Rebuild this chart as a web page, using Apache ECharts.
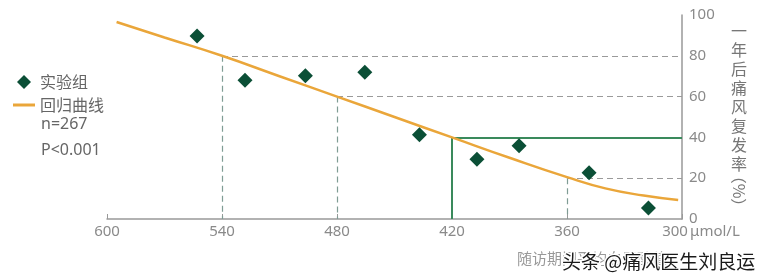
<!DOCTYPE html>
<html><head><meta charset="utf-8">
<script src="https://cdn.jsdelivr.net/npm/echarts@6/dist/echarts.min.js"></script>
<style>html,body{margin:0;padding:0;background:#fff}#c{width:769px;height:278px}</style>
</head><body><div id="c"></div>
<script>
// ---- data ----
var xTicks = [600, 540, 480, 420, 360, 300];
var yTicks = [0, 20, 40, 60, 80, 100];
var groupX = [553, 528, 496.5, 465.5, 437, 407, 385, 348.5, 317.5];
var groupY = [89.7, 68, 70.2, 71.9, 41.3, 29.3, 35.9, 22.7, 5.4];
var curveX = [595, 570, 540, 510, 480, 450, 420, 390, 360, 340, 320, 302];
var curveY = [96.6, 89, 80, 70, 60, 50, 40, 30, 20.5, 15, 11.5, 9.3];
var guideX = [540, 480, 360];
var guideY = [80, 60, 20];
var solidX = [420];
var solidY = [40];
var legendNames = ['实验组', '回归曲线'];
var statTexts = ['n=267', 'P<0.001'];
var yName = ['一', '年', '后', '痛', '风', '复', '发', '率'];
var yNameUnit = '（%）';
var xUnit = 'μmol/L';
var xTitle = '随访期间平均血尿酸值';
var watermark = '头条 @痛风医生刘良运';

var chart = echarts.init(document.getElementById('c'));
var xMin = Math.min.apply(null, xTicks), xMax = Math.max.apply(null, xTicks);
var yMin = Math.min.apply(null, yTicks), yMax = Math.max.apply(null, yTicks);

var marks = [];
guideX.forEach(function (x, i) {
  marks.push([{coord: [x, guideY[i]], lineStyle: {color: '#7f9c94', type: [6, 4], width: 1.2}}, {coord: [x, yMin]}]);
  marks.push([{coord: [x, guideY[i]], lineStyle: {color: '#9a9a9a', type: [6, 4], width: 1.2}}, {coord: [xMin, guideY[i]]}]);
});
solidX.forEach(function (x, i) {
  marks.push([{coord: [x, solidY[i]], lineStyle: {color: '#3a8a5c', type: 'solid', width: 2}}, {coord: [x, yMin]}]);
  marks.push([{coord: [x, solidY[i]], lineStyle: {color: '#3a8a5c', type: 'solid', width: 2}}, {coord: [xMin, solidY[i]]}]);
});

var font = '"Noto Sans CJK SC", "Noto Sans", sans-serif';
var option = {
  animation: false,
  backgroundColor: '#fff',
  grid: {left: 107, right: 87, top: 15, bottom: 59},
  legend: {
    orient: 'vertical', left: 13, top: 74, padding: 0, itemWidth: 22, itemHeight: 14, itemGap: 7,
    symbolKeepAspect: true,
    textStyle: {fontSize: 16, lineHeight: 16, color: '#666', fontFamily: font},
    data: [
      {name: legendNames[0], icon: 'path://M7,0L14,7L7,14L0,7Z'},
      {name: legendNames[1], icon: 'path://M0,0h22v3h-22z'}
    ]
  },
  xAxis: {
    type: 'value', inverse: true, min: xMin, max: xMax, interval: 60,
    axisLine: {lineStyle: {color: '#999', width: 1.5}},
    axisTick: {show: true, inside: true, length: 5, lineStyle: {color: '#999'}},
    splitLine: {show: false},
    axisLabel: {
      color: '#8a8a8a', fontSize: 15, margin: 5, fontFamily: '"Noto Sans", sans-serif',
      formatter: function (v) { return v === xMin ? '{e|' + v + '}' : String(v); },
      rich: {e: {color: '#8a8a8a', fontSize: 15, fontFamily: '"Noto Sans", sans-serif', padding: [0, 14, 0, 0]}}
    }
  },
  yAxis: {
    type: 'value', position: 'right', min: yMin, max: yMax, interval: 20,
    axisLine: {show: true, lineStyle: {color: '#999', width: 1.5}},
    axisTick: {show: false},
    splitLine: {show: false},
    axisLabel: {color: '#8a8a8a', fontSize: 15, margin: 7, fontFamily: '"Noto Sans", sans-serif'}
  },
  series: [
    {
      name: legendNames[1], type: 'line', smooth: 0.5, symbol: 'none', z: 3,
      lineStyle: {color: '#eaa63a', width: 2.5}, itemStyle: {color: '#eaa63a'},
      data: curveX.map(function (x, i) { return [x, curveY[i]]; }),
      markLine: {silent: true, symbol: ['none', 'none'], label: {show: false}, data: marks, z: 2}
    },
    {
      name: legendNames[0], type: 'scatter', symbol: 'diamond', symbolSize: 15, z: 4,
      itemStyle: {color: '#0b4f36', opacity: 1},
      data: groupX.map(function (x, i) { return [x, groupY[i]]; })
    }
  ],
  graphic: [
    {type: 'text', left: 41, top: 116, style: {text: statTexts[0], fill: '#666', font: '16px "Noto Sans", sans-serif'}},
    {type: 'text', left: 41, top: 142, style: {text: statTexts[1], fill: '#666', font: '16px "Noto Sans", sans-serif'}},
    {type: 'text', x: 739, y: 21, style: {text: yName.join('\n'), align: 'center', verticalAlign: 'top', lineHeight: 19, fill: '#777', font: '16px "Noto Sans CJK SC", sans-serif'}},
    {type: 'text', x: 739, y: 191, rotation: -Math.PI / 2, style: {text: yNameUnit, align: 'center', verticalAlign: 'middle', fill: '#777', font: '16px "Noto Sans CJK SC", sans-serif'}},
    {type: 'text', x: 690, y: 232, style: {text: xUnit, align: 'left', verticalAlign: 'middle', fill: '#8a8a8a', font: '15px "Noto Sans", sans-serif'}},
    {type: 'text', x: 517, y: 258, style: {text: xTitle, align: 'left', verticalAlign: 'middle', fill: '#999', font: '15px "Noto Sans CJK SC", sans-serif'}},
    {type: 'text', x: 562, y: 262, z: 100, style: {text: watermark, align: 'left', verticalAlign: 'middle', fill: '#1a1a1a', stroke: '#fff', lineWidth: 3, font: '19px "Noto Sans CJK SC", sans-serif'}}
  ]
};
chart.setOption(option);
</script></body></html>
